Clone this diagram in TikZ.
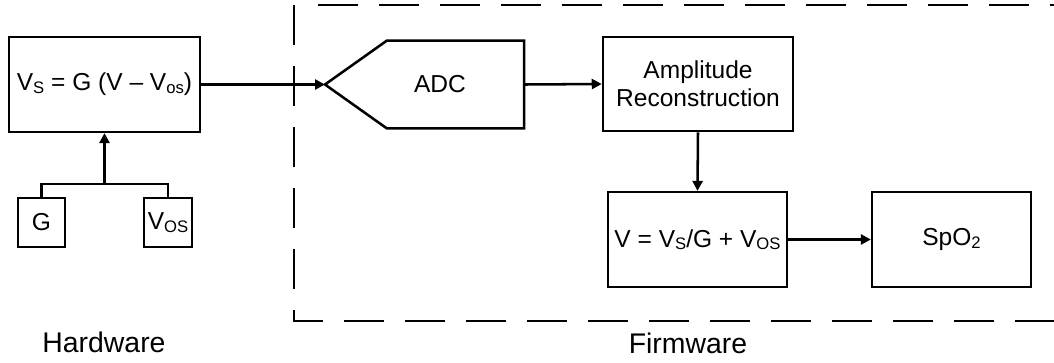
\documentclass[tikz,border=0pt]{standalone}
\usepackage{fontspec}
\setmainfont{Liberation Sans}
\usetikzlibrary{arrows.meta}
\newcommand{\sbs}[1]{\raisebox{-0.2ex}{\fontsize{12.5}{12.5}\selectfont #1}}
\begin{document}
\begin{tikzpicture}[x=0.75pt,y=-0.75pt,
  line width=1.9pt,
  every node/.style={font=\fontsize{18.4}{21}\selectfont, inner sep=0pt},
  blk/.style={draw, rectangle, align=center},
  arr/.style={-{Triangle[length=7.5pt,width=7.5pt]}},
  fence/.style={dash pattern=on 30pt off 15.75pt},
  zone/.style={font=\fontsize{21.3}{24}\selectfont, anchor=base}
]
\useasboundingbox (0,0) rectangle (1054,362);
% dashed firmware region
\draw[fence] (294,5) -- (294,321) -- (1060,321);
\draw[fence] (318,5) -- (1060,5);
% hardware blocks
\node[blk, minimum width=143pt, minimum height=71pt] (hw) at (104.5,84.5) {V\sbs{S} = G (V -- V\sbs{os})};
\node[blk, minimum width=35pt, minimum height=37pt] (g) at (41.5,222.5) {G};
\node[blk, minimum width=36pt, minimum height=37pt] (vos) at (168,222.5) {V\sbs{OS}};
\coordinate (junc) at (104.5,184);
\draw (g.north) |- (junc) -| (vos.north);
\draw[arr] (junc) -- (hw.south);
% ADC
\node[minimum width=101pt, minimum height=64pt] (adc) at (455.5,84.5) {};
\coordinate (adctip) at (325,84.5);
\draw[line join=miter] (adctip) -- (adc.north west) -- (adc.north east) -- (adc.south east) -- (adc.south west) -- cycle;
\node (adclabel) at (440,84.5) {ADC};
% firmware blocks
\node[blk, minimum width=142.5pt, minimum height=70.5pt] (amp) at (698,84) {Amplitude\\Reconstruction};
\node[blk, minimum width=134pt, minimum height=71pt] (inv) at (697.5,239.5) {V = V\sbs{S}/G + V\sbs{OS}};
\node[blk, minimum width=119pt, minimum height=71pt] (spo) at (951.5,239.5) {SpO\sbs{2}};
\draw[arr] (hw.east) -- (adctip);
\draw[arr] (adc.east) -- (amp.west);
\draw[arr] (amp.south) -- (inv.north);
\draw[arr] (inv.east) -- (spo.west);
% labels
\node[zone] (hwlab) at (104,352) {Hardware};
\node[zone] (fwlab) at (688,353) {Firmware};
\end{tikzpicture}
\end{document}
